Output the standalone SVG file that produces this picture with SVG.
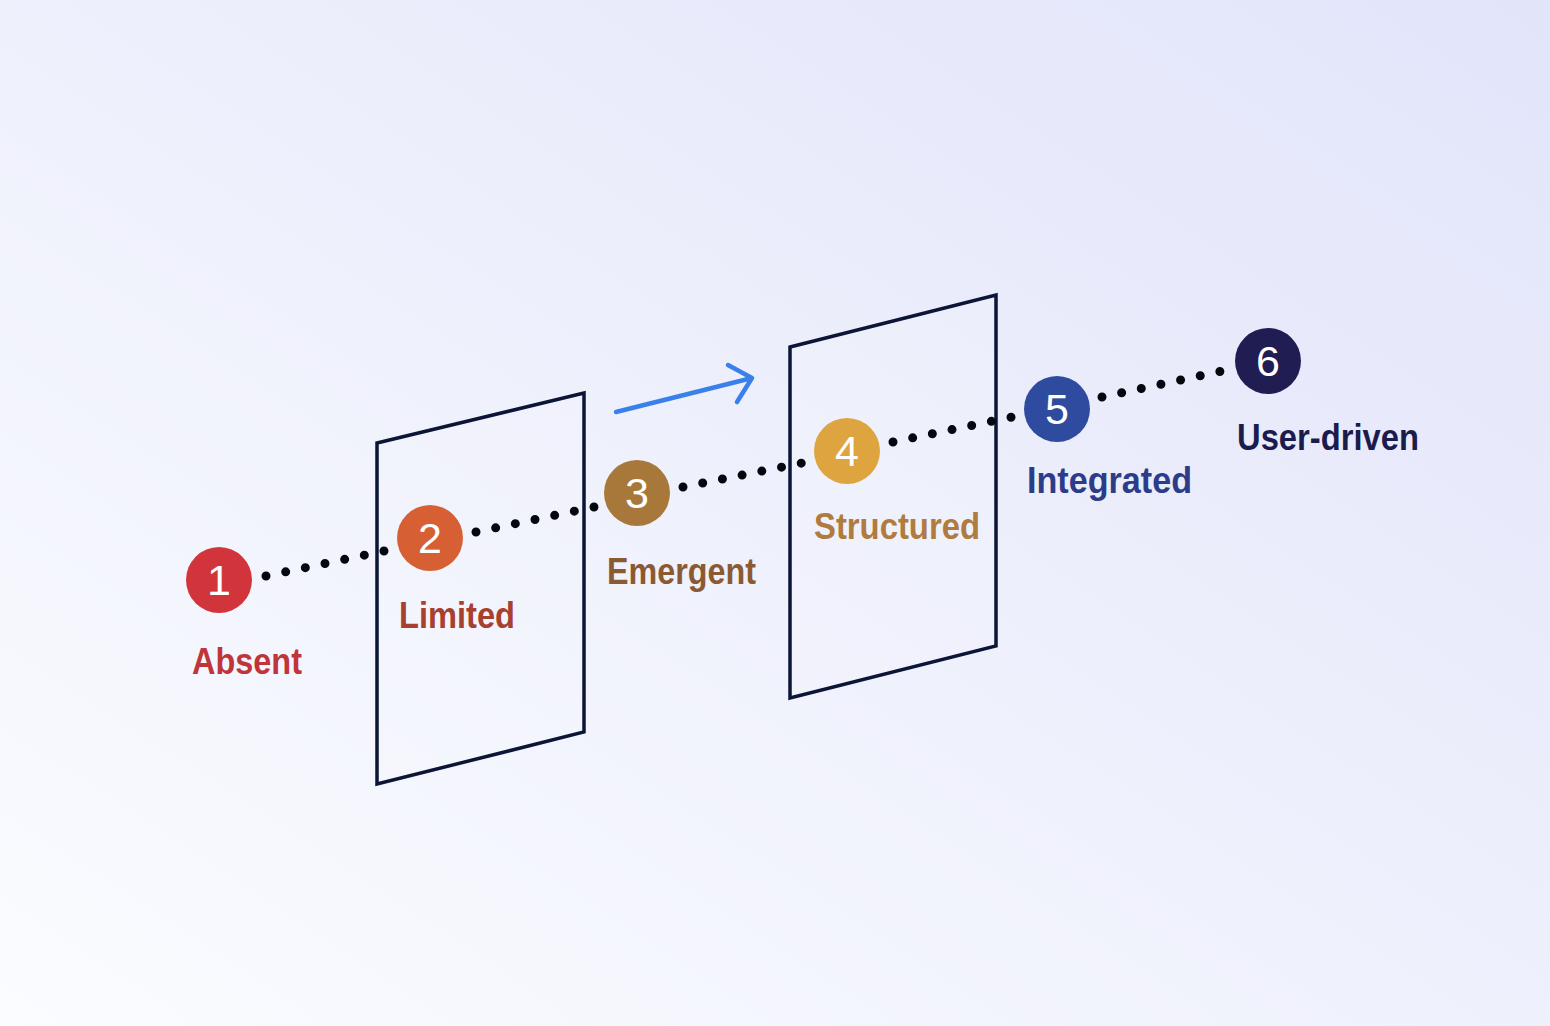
<svg xmlns="http://www.w3.org/2000/svg" width="1550" height="1026" viewBox="0 0 1550 1026">
  <defs>
    <linearGradient id="bg" x1="0" y1="1" x2="1" y2="0">
      <stop offset="0" stop-color="#fbfcff"/>
      <stop offset="0.5" stop-color="#eef0fc"/>
      <stop offset="1" stop-color="#e2e4fa"/>
    </linearGradient>
    <style>
      .panel { fill: #ffffff; fill-opacity: 0.12; stroke: #0b1535; stroke-width: 3.5; stroke-linejoin: miter; }
      .dots { stroke: #05070f; stroke-width: 9; stroke-linecap: round; stroke-dasharray: 0 20.1; fill: none; }
      .num { font-family: "Liberation Sans", "Open Sans", sans-serif; font-size: 43px; fill: #ffffff; text-anchor: middle; }
      .lbl { font-family: "Liberation Sans", "Open Sans", sans-serif; font-size: 37px; font-weight: bold; }
      .arrow { stroke: #3a80ea; stroke-width: 4.5; stroke-linecap: round; stroke-linejoin: round; fill: none; }
    </style>
  </defs>
  <rect x="0" y="0" width="1550" height="1026" fill="url(#bg)"/>

  <g id="panel-1">
    <polygon class="panel" points="377,443 584,393 584,732 377,784"/>
  </g>
  <g id="panel-2">
    <polygon class="panel" points="790,347 996,295 996,646 790,698"/>
  </g>

  <g id="direction-arrow">
    <path class="arrow" d="M616,412 L752,378 M728,365 L752,378 L737,402"/>
  </g>

  <g id="connectors">
    <line class="dots" x1="266" y1="576" x2="384" y2="551"/>
    <line class="dots" x1="476" y1="532" x2="594" y2="507"/>
    <line class="dots" x1="683" y1="487" x2="802" y2="463"/>
    <line class="dots" x1="893" y1="442" x2="1012" y2="417"/>
    <line class="dots" x1="1102" y1="397" x2="1222" y2="371"/>
  </g>

  <g id="node-1">
    <circle cx="219" cy="580" r="33" fill="#d2343b"/>
    <text class="num" x="219" y="595">1</text>
    <text class="lbl" x="192" y="674" fill="#c0353a" textLength="110" lengthAdjust="spacingAndGlyphs">Absent</text>
  </g>
  <g id="node-2">
    <circle cx="430" cy="538" r="33" fill="#d75f34"/>
    <text class="num" x="430" y="553">2</text>
    <text class="lbl" x="399" y="628" fill="#a8402f" textLength="116" lengthAdjust="spacingAndGlyphs">Limited</text>
  </g>
  <g id="node-3">
    <circle cx="637" cy="493" r="33" fill="#a8783a"/>
    <text class="num" x="637" y="508">3</text>
    <text class="lbl" x="607" y="584" fill="#8c5a32" textLength="149" lengthAdjust="spacingAndGlyphs">Emergent</text>
  </g>
  <g id="node-4">
    <circle cx="847" cy="451" r="33" fill="#dea43f"/>
    <text class="num" x="847" y="466">4</text>
    <text class="lbl" x="814" y="539" fill="#b07b3e" textLength="166" lengthAdjust="spacingAndGlyphs">Structured</text>
  </g>
  <g id="node-5">
    <circle cx="1057" cy="409" r="33" fill="#2f4b9f"/>
    <text class="num" x="1057" y="424">5</text>
    <text class="lbl" x="1027" y="493" fill="#2c3c88" textLength="165" lengthAdjust="spacingAndGlyphs">Integrated</text>
  </g>
  <g id="node-6">
    <circle cx="1268" cy="361" r="33" fill="#1f1d52"/>
    <text class="num" x="1268" y="376">6</text>
    <text class="lbl" x="1237" y="450" fill="#1b1c4e" textLength="182" lengthAdjust="spacingAndGlyphs">User-driven</text>
  </g>
</svg>
